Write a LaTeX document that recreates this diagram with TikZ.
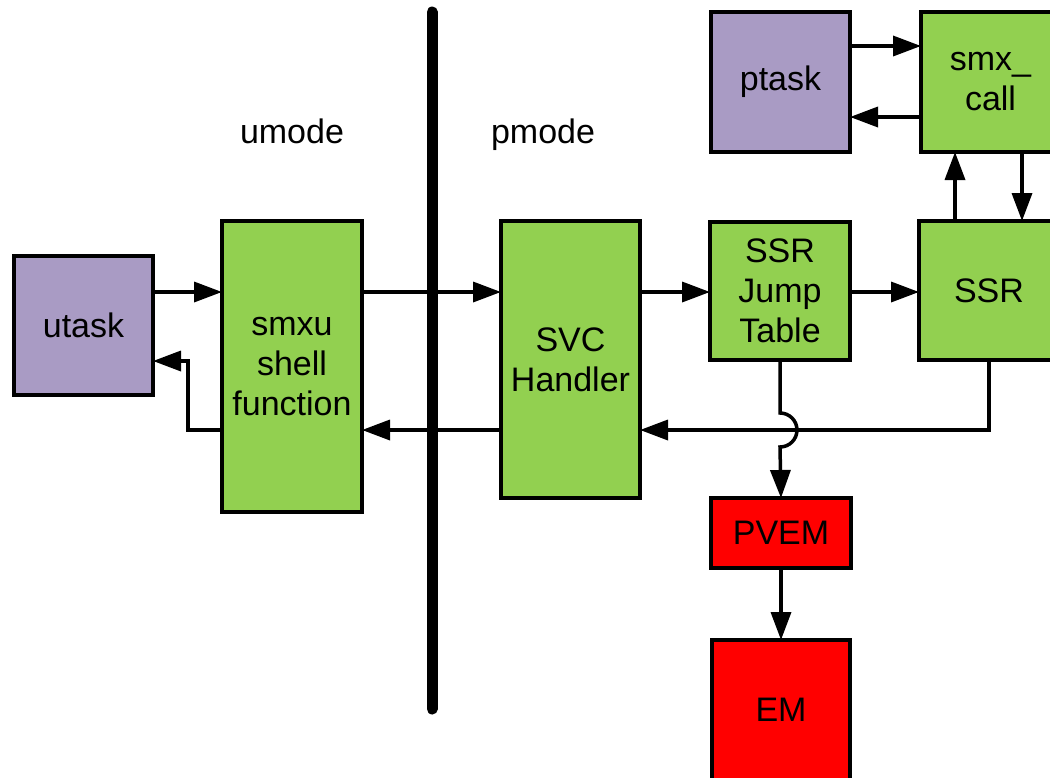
\documentclass[tikz,border=0pt]{standalone}
\usepackage{fontspec}
\setmainfont{Liberation Sans}
\usetikzlibrary{arrows.meta,calc}
\definecolor{boxgreen}{HTML}{92D050}
\definecolor{boxpurple}{HTML}{A99BC4}
\definecolor{boxred}{HTML}{FF0000}
\tikzset{
  blk/.style={draw=black, line width=3.5pt, inner sep=0pt, outer sep=0pt,
    align=center, font=\fontsize{34}{40}\selectfont},
  greenblk/.style={blk, fill=boxgreen},
  purpleblk/.style={blk, fill=boxpurple},
  redblk/.style={blk, fill=boxred},
  conn/.style={line width=3.5pt, -{Triangle[length=28pt,width=20pt]}},
  lbl/.style={font=\fontsize{34}{40}\selectfont, anchor=base}
}
\begin{document}
\begin{tikzpicture}[x=1pt,y=-1pt]
\useasboundingbox (0,0) rectangle (1050,777);

% mode separator
\draw[line width=11pt, line cap=round] (432,12) -- (432,709);
\node[lbl] (umode) at (292,143) {umode};
\node[lbl] (pmode) at (543,143) {pmode};

% blocks
\node[purpleblk, minimum width=139pt, minimum height=139pt] (utask) at (83.5,325.5) {utask};
\node[greenblk, minimum width=140pt, minimum height=291pt] (smxu) at (292,366.5) {smxu\\shell\\function};
\node[greenblk, minimum width=139pt, minimum height=277pt] (svc) at (570.5,359.5) {SVC\\Handler};
\node[greenblk, minimum width=140pt, minimum height=138pt] (jump) at (780,291) {SSR\\Jump\\Table};
\node[greenblk, minimum width=140pt, minimum height=139pt] (ssr) at (989,290.5) {SSR};
\node[purpleblk, minimum width=139pt, minimum height=140pt] (ptask) at (780.5,82) {ptask};
\node[greenblk, minimum width=139pt, minimum height=140pt] (smxcall) at (990.5,82) {smx\_\\call};
\node[redblk, minimum width=140pt, minimum height=70pt] (pvem) at (781,533) {PVEM};
\node[redblk, minimum width=138pt, minimum height=140pt] (em) at (781,710) {EM};

% helper levels
\coordinate (fwd) at (0,292);
\coordinate (ret) at (0,430);
\coordinate (back) at (0,361);
\coordinate (bend) at (188,0);
\coordinate (up) at (955,0);
\coordinate (down) at (1022,0);
\coordinate (callin) at (0,46);
\coordinate (callout) at (0,117);
\coordinate (hop) at (780,413);

% forward path
\draw[conn] (utask.east |- fwd) -- (smxu.west |- fwd);
\draw[conn] (smxu.east |- fwd) -- (svc.west |- fwd);
\draw[conn] (svc.east |- fwd) -- (jump.west |- fwd);
\draw[conn] (jump.east |- fwd) -- (ssr.west |- fwd);

% return path
\draw[conn] (ssr.south) -- (ssr.south |- ret) -- (svc.east |- ret);
\draw[conn] (svc.west |- ret) -- (smxu.east |- ret);
\draw[conn] (smxu.west |- ret) -- (bend |- ret) -- (bend |- back) -- (utask.east |- back);

% jump table to PVEM, hopping over the return line
\draw[conn] (jump.south) -- (hop) arc[start angle=90, end angle=-90, radius=17pt] -- (pvem.north);
\draw[conn] (pvem.south) -- (em.north);

% ptask / smx_call / SSR
\draw[conn] (ptask.east |- callin) -- (smxcall.west |- callin);
\draw[conn] (smxcall.west |- callout) -- (ptask.east |- callout);
\draw[conn] (ssr.north -| up) -- (smxcall.south -| up);
\draw[conn] (smxcall.south -| down) -- (ssr.north -| down);
\end{tikzpicture}
\end{document}
